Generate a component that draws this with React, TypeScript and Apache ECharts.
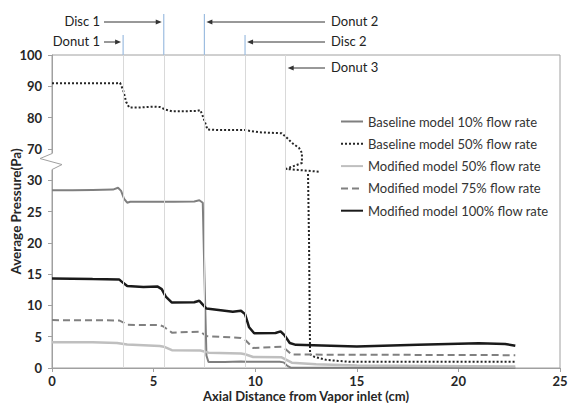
import React, { useEffect, useRef } from "react";
import * as echarts from "echarts";

// ---- data (x in cm, pressure in Pa) ----
const seriesNames = [
  "Baseline model 10% flow rate",
  "Baseline model 50% flow rate",
  "Modified model 50% flow rate",
  "Modified model 75% flow rate",
  "Modified model 100% flow rate",
];

const baseline10: [number, number][] = [
  [0, 28.4], [1, 28.4], [2, 28.45], [3, 28.5], [3.25, 28.8], [3.4, 28.3], [3.55, 27.0], [3.7, 26.4],
  [3.85, 26.55], [5, 26.55], [6, 26.55], [7, 26.6], [7.25, 26.8], [7.42, 26.4], [7.5, 15], [7.6, 2.0],
  [7.7, 0.95], [8.5, 0.95], [9.3, 1.05], [9.6, 1.0], [11.2, 1.0], [11.4, 0.9], [11.6, 0.3],
  [11.75, 0.05], [22.8, 0.05],
];

const baseline50: [number, number | string][] = [
  [0, 91], [3.2, 91], [3.35, 91.1], [3.5, 88.8], [3.65, 85], [3.8, 83.2], [4.2, 83.2], [5.0, 83.5],
  [5.3, 83.4], [5.6, 82.5], [5.9, 82.0], [7.1, 82.1], [7.3, 82.4], [7.45, 80], [7.65, 76.2],
  [8.2, 76.0], [9.5, 76.0], [10.2, 75.3], [11.3, 75.0], [11.57, 73.5], [11.81, 71.9], [12.16, 70.3],
  [12.3, 64.8], [12.3, 52], [11.52, 44.4], [12.4, 42.5], [13.14, 40.8], [13.2, "-"],
  [12.6, 38], [12.65, 20], [12.7, 2.2], [12.9, 1.8], [13.5, 1.3], [14.6, 1.0], [22.8, 1.0],
];

const modified50: [number, number][] = [
  [0, 4.1], [2, 4.1], [3.2, 4.0], [3.7, 3.75], [5.3, 3.5], [5.5, 3.4], [5.9, 2.85], [7.3, 2.8],
  [7.7, 2.45], [9.3, 2.3], [9.5, 2.2], [9.9, 1.75], [11.3, 1.7], [11.8, 0.85], [13, 0.6],
  [15, 0.4], [22.8, 0.25],
];

const modified75: [number, number][] = [
  [0, 7.65], [3.3, 7.6], [3.5, 7.3], [3.7, 6.9], [5.3, 6.85], [5.5, 6.6], [5.9, 5.65], [7.3, 5.8],
  [7.6, 5.1], [9.3, 4.8], [9.5, 4.5], [9.9, 3.2], [11.3, 3.4], [11.5, 3.0], [11.8, 2.15], [22.8, 2.05],
];

const modified100: [number, number][] = [
  [0, 14.3], [1, 14.25], [2, 14.2], [3.3, 14.15], [3.5, 13.6], [3.7, 13.1], [4.5, 12.95], [5.2, 13.0],
  [5.4, 12.6], [5.6, 11.4], [5.9, 10.45], [7.0, 10.5], [7.25, 10.75], [7.4, 10.2], [7.6, 9.5],
  [8.9, 9.0], [9.3, 9.15], [9.5, 8.6], [9.7, 6.5], [9.95, 5.55], [11.0, 5.6], [11.25, 5.85],
  [11.45, 5.2], [11.7, 4.0], [12.0, 3.7], [15, 3.45], [18, 3.7], [21, 3.95], [22.3, 3.85], [22.8, 3.55],
];

const yTickLabels = ["0", "5", "10", "15", "20", "25", "30", "70", "80", "90", "100"];
const xTicks = [0, 5, 10, 15, 20, 25];

const featureNames = ["Donut 1", "Disc 1", "Donut 2", "Disc 2", "Donut 3"];
const featureX = [3.5, 5.5, 7.5, 9.5, 11.5];

// broken axis: 0..30 -> 0..6, 70..100 -> 7..10
const toAxis = (v: number | string) => {
  if (typeof v === "string") return v;
  if (v <= 30) return v / 5;
  if (v >= 70) return 6 + (v - 60) / 10;
  return 6 + (v - 30) / 40;
};
const conv = (arr: [number, number | string][]) => arr.map(([x, v]) => [x, toAxis(v)]);

const FONT = "Lato";

export default function App() {
  const ref = useRef<HTMLDivElement>(null);
  useEffect(() => {
    if (!ref.current) return;
    const chart = echarts.init(ref.current, undefined, { renderer: "svg" });
    const gridLeft = 52, gridTop = 55, gridRight = 11, gridBottom = 35;
    const axisColor = "#a0a0a0";
    const option: any = {
      animation: false,
      backgroundColor: "#ffffff",
      grid: {
        left: gridLeft, top: gridTop, right: gridRight, bottom: gridBottom,
        containLabel: false, outerBoundsMode: "none",
        show: true, borderColor: axisColor, borderWidth: 1,
      },
      xAxis: {
        type: "value", min: xTicks[0], max: xTicks[xTicks.length - 1], interval: 5,
        name: "Axial Distance from Vapor inlet (cm)", nameLocation: "middle", nameGap: 21,
        nameMoveOverlap: false,
        nameTextStyle: { fontFamily: FONT, fontWeight: "bold", fontSize: 13, color: "#262626", verticalAlign: "top", lineHeight: 14 },
        axisLine: { lineStyle: { color: axisColor } },
        axisTick: { show: true, length: 4, lineStyle: { color: axisColor } },
        axisLabel: { fontFamily: FONT, fontWeight: "bold", fontSize: 13, color: "#262626", margin: 6, lineHeight: 14 },
        splitLine: { show: false },
      },
      yAxis: {
        type: "value", min: 0, max: 10, interval: 1,
        name: "Average Pressure(Pa)", nameLocation: "middle", nameGap: 29,
        nameMoveOverlap: false,
        nameTextStyle: { fontFamily: FONT, fontWeight: "bold", fontSize: 13.5, color: "#262626", verticalAlign: "bottom" },
        axisLine: { show: true, lineStyle: { color: axisColor } },
        axisTick: { show: true, length: 4, lineStyle: { color: axisColor } },
        axisLabel: {
          fontFamily: FONT, fontWeight: "bold", fontSize: 13, color: "#262626", margin: 10,
          formatter: (v: number) => yTickLabels[Math.round(v)] ?? "",
        },
        splitLine: { show: false },
      },
      legend: {
        data: seriesNames, orient: "vertical", left: 335, top: 110,
        itemWidth: 22, itemHeight: 14, itemGap: 9.3,
        itemStyle: { opacity: 0 },
        textStyle: { fontFamily: FONT, fontSize: 13, color: "#333" },
      },
      series: [
        {
          type: "line", name: "features", data: [], z: 1, silent: true,
          markLine: {
            silent: true, symbol: ["none", "none"], label: { show: false },
            lineStyle: { color: "#d9d9d9", width: 1, type: "solid" },
            data: featureX.map((x) => ({ xAxis: x })),
          },
        },
        {
          type: "line", name: seriesNames[0], data: conv(baseline10), symbol: "none", z: 3,
          lineStyle: { color: "#7f7f7f", width: 2 }, itemStyle: { color: "#7f7f7f" },
        },
        {
          type: "line", name: seriesNames[1], data: conv(baseline50), symbol: "none", z: 3,
          lineStyle: { color: "#262626", width: 2, type: [2, 2] }, itemStyle: { color: "#262626" },
        },
        {
          type: "line", name: seriesNames[2], data: conv(modified50), symbol: "none", z: 3,
          lineStyle: { color: "#bfbfbf", width: 2.5 }, itemStyle: { color: "#bfbfbf" },
        },
        {
          type: "line", name: seriesNames[3], data: conv(modified75), symbol: "none", z: 3,
          lineStyle: { color: "#808080", width: 2, type: [7, 4] }, itemStyle: { color: "#808080" },
        },
        {
          type: "line", name: seriesNames[4], data: conv(modified100), symbol: "none", z: 3,
          lineStyle: { color: "#1a1a1a", width: 2.5 }, itemStyle: { color: "#1a1a1a" },
        },
      ],
    };
    chart.setOption(option);

    const xPx = (x: number) => chart.convertToPixel({ xAxisIndex: 0 }, x) as number;
    const yPx = (d: number) => chart.convertToPixel({ yAxisIndex: 0 }, d) as number;
    const top = yPx(10);
    const axisX = xPx(0);
    const mid = (yPx(6) + yPx(7)) / 2 - 3;

    const featureRow = [1, 0, 0, 1, 2];
    const featureSide = ["left", "left", "right", "right", "right"];
    const rowY = [top - 33, top - 13, top + 13];
    const rowLineTop = [top - 41, top - 20];
    const leftTextRight = 100, leftTail = 104, rightTail = 325, rightTextLeft = 331;
    const g: any[] = [];
    featureX.forEach((fx, i) => {
      const px = xPx(fx);
      const row = featureRow[i];
      const y = rowY[row];
      if (row < 2) {
        g.push({ type: "line", z: 50, shape: { x1: px, y1: rowLineTop[row], x2: px, y2: top }, style: { stroke: "#9dbde0", lineWidth: 1.2 } });
      }
      if (featureSide[i] === "left") {
        const hx = px - 2;
        g.push({ type: "line", z: 50, shape: { x1: leftTail, y1: y, x2: hx - 4, y2: y }, style: { stroke: "#333", lineWidth: 1 } });
        g.push({ type: "polygon", z: 50, shape: { points: [[hx, y], [hx - 6, y - 2.5], [hx - 6, y + 2.5]] }, style: { fill: "#333" } });
        g.push({ type: "text", z: 50, x: leftTextRight, y: y - 1, style: { text: featureNames[i], font: `13px ${FONT}`, fill: "#222", align: "right", verticalAlign: "middle" } });
      } else {
        const hx = px + 2;
        g.push({ type: "line", z: 50, shape: { x1: rightTail, y1: y, x2: hx + 4, y2: y }, style: { stroke: "#333", lineWidth: 1 } });
        g.push({ type: "polygon", z: 50, shape: { points: [[hx, y], [hx + 6, y - 2.5], [hx + 6, y + 2.5]] }, style: { fill: "#333" } });
        g.push({ type: "text", z: 50, x: rightTextLeft, y: y - 1, style: { text: featureNames[i], font: `13px ${FONT}`, fill: "#222", align: "left", verticalAlign: "middle" } });
      }
    });
    // axis break symbol
    g.push({ type: "rect", z: 60, shape: { x: axisX - 2, y: mid - 8, width: 4, height: 16 }, style: { fill: "#ffffff" } });
    g.push({
      type: "polyline", z: 61,
      shape: { points: [[axisX, mid - 8], [axisX - 12, mid - 3], [axisX + 10, mid + 3], [axisX, mid + 8]] },
      style: { stroke: axisColor, lineWidth: 1, fill: null },
    });
    chart.setOption({ graphic: g });
    return () => chart.dispose();
  }, []);
  return <div ref={ref} style={{ position: "fixed", left: 0, top: 0, width: 571, height: 403 }} />;
}
